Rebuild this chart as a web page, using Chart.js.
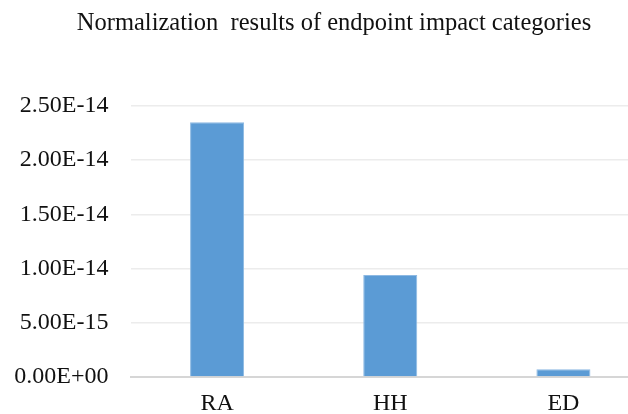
<!DOCTYPE html>
<html>
<head>
<meta charset="utf-8">
<script src="https://cdn.jsdelivr.net/npm/chart.js@4"></script>
<style>
  html, body { margin: 0; padding: 0; background: #fff; overflow: hidden; width: 628px; height: 414px; }
  #wrap { width: 668px; height: 414px; position: relative; }
</style>
</head>
<body>
<div id="wrap"><canvas id="c" width="668" height="414"></canvas></div>
<script>
const categories = ["RA", "HH", "ED"];
const values = [2.35e-14, 0.94e-14, 0.072e-14];
const yMax = 2.5e-14;
const yStep = 5e-15;
const chartTitle = "Normalization  results of endpoint impact categories";

function sci(v) {
  if (Math.abs(v) < 1e-30) return "0.00E+00";
  let s = v.toExponential(2).toUpperCase();
  const m = s.match(/^(-?[\d.]+)E([+-])(\d+)$/);
  if (!m) return s;
  return m[1] + "E" + m[2] + m[3].padStart(2, "0");
}

const font = "'Liberation Serif', 'Times New Roman', serif";
new Chart(document.getElementById("c"), {
  type: "bar",
  data: {
    labels: categories,
    datasets: [{
      data: values,
      backgroundColor: "#5b9bd5",
      borderColor: "#8db9e3",
      borderWidth: 1,
      barPercentage: 0.312,
      categoryPercentage: 1.0
    }]
  },
  options: {
    responsive: false,
    animation: false,
    devicePixelRatio: 1,
    layout: { padding: 0 },
    plugins: {
      legend: { display: false },
      tooltip: { enabled: false },
      title: {
        display: true,
        text: chartTitle,
        color: "#111",
        font: { family: font, size: 24.5, weight: "normal" },
        padding: { top: 9, bottom: 67.5 }
      }
    },
    scales: {
      x: {
        afterFit: (s) => { s.height = 37; },
        grid: { display: false, drawTicks: false },
        border: { display: true, color: "#d6d6d6", width: 2 },
        ticks: { color: "#111", font: { family: font, size: 24 }, padding: 12 }
      },
      y: {
        min: 0,
        max: yMax,
        afterFit: (s) => { s.width = 130.5; },
        grid: { color: "#ececec", lineWidth: 1.5, drawTicks: false },
        border: { display: false },
        ticks: {
          stepSize: yStep,
          color: "#111",
          font: { family: font, size: 24 },
          padding: 22,
          callback: (v) => sci(v)
        }
      },
      ySpacer: {
        type: "linear",
        position: "right",
        display: true,
        afterFit: (s) => { s.width = 18; },
        grid: { display: false, drawTicks: false },
        border: { display: false },
        ticks: { display: false }
      }
    }
  }
});
</script>
</body>
</html>
